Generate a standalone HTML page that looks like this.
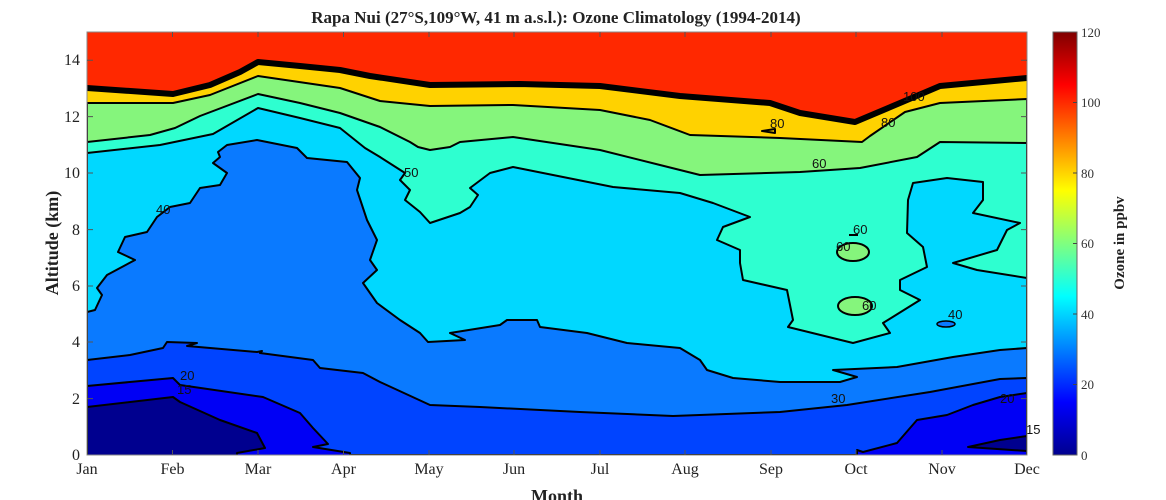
<!DOCTYPE html>
<html><head><meta charset="utf-8"><style>
html,body{margin:0;padding:0;background:#fff;width:1166px;height:500px;overflow:hidden}
svg{display:block}
.s{font-family:"Liberation Serif",serif}
.c{font-family:"Liberation Sans",sans-serif;font-size:13px;fill:#111}
</style></head><body>
<svg width="1166" height="500" viewBox="0 0 1166 500">
<defs>
<linearGradient id="jet" x1="0" y1="1" x2="0" y2="0">
<stop offset="0" stop-color="#00008f"/><stop offset="0.125" stop-color="#0000ff"/>
<stop offset="0.375" stop-color="#00ffff"/><stop offset="0.625" stop-color="#ffff00"/>
<stop offset="0.875" stop-color="#ff0000"/><stop offset="1" stop-color="#800000"/>
</linearGradient>
<clipPath id="cp"><rect x="87" y="32" width="940" height="423"/></clipPath>
</defs>
<g clip-path="url(#cp)" stroke-linejoin="round">
<rect x="87" y="32" width="940" height="423" fill="#ff2800"/>
<!-- yellow below 100 -->
<polygon fill="#ffd200" points="87,88 173,94 210,85 240,72 258,62 300,66 340,70 370,76 430,85 520,84 600,86 680,96 770,103 800,113 855,122 900,103 940,86 1027,78 1027,455 87,455"/>
<!-- green below 80 -->
<polygon fill="#85f57c" stroke="#000" stroke-width="2" points="87,103 173,103 210,95 258,76 340,88 380,101 430,106 513,105 600,110 650,120 690,135 780,138 862,142 870,136 905,112 940,103 1027,99 1027,455 87,455"/>
<!-- aquamarine below 60 -->
<polygon fill="#2effd0" stroke="#000" stroke-width="2" points="87,142 150,135 175,128 200,116 258,94 300,103 340,113 380,127 410,142 418,147 430,150 450,147 460,142 513,137 600,150 660,165 700,175 800,172 860,168 917,157 940,142 1027,143 1027,455 87,455"/>
<!-- cyan 40-50 -->
<polygon fill="#00d8ff" stroke="#000" stroke-width="2" points="87,153 160,145 213,134 258,108 300,118 340,128 365,148 380,157 405,173 400,180 410,190 405,200 420,212 430,223 445,218 460,213 470,207 478,195 470,188 490,173 513,167 613,187 680,193 713,203 750,217 723,227 717,240 740,250 740,263 743,280 787,290 793,320 788,327 853,343 890,333 883,323 920,300 900,290 900,280 927,267 923,247 907,233 908,200 913,183 947,178 983,182 983,200 973,213 1020,223 1007,230 997,250 953,263 977,270 1027,278 1027,455 87,455"/>
<!-- mid blue 30-40 -->
<polygon fill="#0a7aff" stroke="#000" stroke-width="2" points="87,312 95,310 102,295 97,288 107,275 135,260 118,252 125,237 147,232 157,217 170,207 190,203 200,188 220,185 227,173 213,163 220,157 218,152 227,145 257,140 297,148 307,158 347,162 360,178 357,190 367,220 377,240 370,260 377,270 363,283 377,303 400,320 420,333 428,342 465,340 450,333 500,325 507,320 537,320 540,327 587,333 627,343 680,348 700,360 707,370 733,378 780,382 840,382 857,377 833,370 897,367 953,357 1000,350 1027,348 1027,455 87,455"/>
<!-- blue 20-30 -->
<polygon fill="#0044ff" stroke="#000" stroke-width="2" points="87,360 130,355 163,348 167,342 197,343 187,346 257,352 262,351 260,353 313,360 320,368 363,373 380,382 430,405 480,407 580,412 673,416 780,412 847,405 930,392 1000,379 1027,378 1027,455 87,455"/>
<!-- pure blue -->
<polygon fill="#0000f5" stroke="#000" stroke-width="2" points="87,386 173,378 180,385 263,397 300,413 313,428 328,444 313,447 350,453 350,458 87,458"/>
<polygon fill="#0000f5" stroke="#000" stroke-width="2" points="857,450 863,452 897,443 917,420 947,415 973,405 1000,397 1027,393 1027,458 857,458"/>
<!-- navy -->
<polygon fill="#00008f" stroke="#000" stroke-width="2" points="87,407 173,397 180,402 220,420 257,433 265,448 237,453 237,458 87,458"/>
<polygon fill="#00008f" stroke="#000" stroke-width="2" points="968,447 1000,440 1027,436 1027,451"/>
<!-- islands -->
<ellipse cx="853" cy="252" rx="16" ry="9" fill="#85f57c" stroke="#000" stroke-width="2"/>
<ellipse cx="855" cy="306" rx="17" ry="9" fill="#85f57c" stroke="#000" stroke-width="2"/>
<ellipse cx="946" cy="324" rx="9" ry="3" fill="#0a7aff" stroke="#000" stroke-width="1.5"/>
<polygon points="762,131 775,129 775,133" fill="#ffd200" stroke="#000" stroke-width="2"/>
<line x1="849" y1="235" x2="858" y2="235" stroke="#000" stroke-width="2"/>
<!-- thick 100 line -->
<polyline fill="none" stroke="#000" stroke-width="6" points="87,88 173,94 210,85 240,72 258,62 300,66 340,70 370,76 430,85 520,84 600,86 680,96 770,103 800,113 855,122 900,103 940,86 1027,78"/>
</g>
<!-- contour labels -->
<g class="c">
<text x="770" y="128">80</text><text x="903" y="101">100</text><text x="881" y="127">80</text>
<text x="812" y="168">60</text><text x="853" y="234">60</text><text x="836" y="251">60</text>
<text x="862" y="310">60</text><text x="948" y="319">40</text><text x="404" y="177">50</text>
<text x="156" y="214">40</text><text x="180" y="380">20</text><text x="177" y="394">15</text>
<text x="831" y="403">30</text><text x="1000" y="403">20</text><text x="1026" y="434">15</text>
</g>
<!-- axes box -->
<rect x="87" y="32" width="940" height="423" fill="none" stroke="#888" stroke-width="1"/>
<g stroke="#555" stroke-width="1">
<path d="M172.5,455v-5M258,455v-5M343.5,455v-5M429,455v-5M514,455v-5M600,455v-5M685,455v-5M771,455v-5M856,455v-5M942,455v-5
M172.5,32v5M258,32v5M343.5,32v5M429,32v5M514,32v5M600,32v5M685,32v5M771,32v5M856,32v5M942,32v5
M87,398.6h6M87,342h6M87,286h6M87,229.6h6M87,173h6M87,116.6h6M87,60.2h6
M1027,398.6h-6M1027,342h-6M1027,286h-6M1027,229.6h-6M1027,173h-6M1027,116.6h-6M1027,60.2h-6"/>
</g>
<g class="s" font-size="16" fill="#222" text-anchor="end">
<text x="80" y="460">0</text><text x="80" y="404">2</text><text x="80" y="347">4</text><text x="80" y="291">6</text>
<text x="80" y="235">8</text><text x="80" y="178">10</text><text x="80" y="122">12</text><text x="80" y="65">14</text>
</g>
<g class="s" font-size="16" fill="#222" text-anchor="middle">
<text x="87" y="474">Jan</text><text x="172.5" y="474">Feb</text><text x="258" y="474">Mar</text><text x="343.5" y="474">Apr</text>
<text x="429" y="474">May</text><text x="514" y="474">Jun</text><text x="600" y="474">Jul</text><text x="685" y="474">Aug</text>
<text x="771" y="474">Sep</text><text x="856" y="474">Oct</text><text x="942" y="474">Nov</text><text x="1027" y="474">Dec</text>
</g>
<text class="s" x="557" y="502" font-size="18" font-weight="bold" text-anchor="middle" fill="#222">Month</text>
<text class="s" x="556" y="23" font-size="17" font-weight="bold" text-anchor="middle" fill="#222">Rapa Nui (27°S,109°W, 41 m a.s.l.): Ozone Climatology (1994-2014)</text>
<text class="s" transform="translate(58,243) rotate(-90)" font-size="18" font-weight="bold" text-anchor="middle" fill="#222">Altitude (km)</text>
<!-- colorbar -->
<rect x="1053" y="32" width="24" height="423" fill="url(#jet)" stroke="#666" stroke-width="1"/>
<g stroke="#444"><path d="M1077,384.5h-4M1077,314h-4M1077,243.5h-4M1077,173h-4M1077,102.5h-4"/></g>
<g class="s" font-size="13" fill="#333">
<text x="1081" y="460">0</text><text x="1081" y="389">20</text><text x="1081" y="319">40</text><text x="1081" y="248">60</text>
<text x="1081" y="178">80</text><text x="1081" y="107">100</text><text x="1081" y="37">120</text>
</g>
<text class="s" transform="translate(1124,243) rotate(-90)" font-size="15" font-weight="bold" text-anchor="middle" fill="#222">Ozone in ppbv</text>
</svg>
</body></html>
